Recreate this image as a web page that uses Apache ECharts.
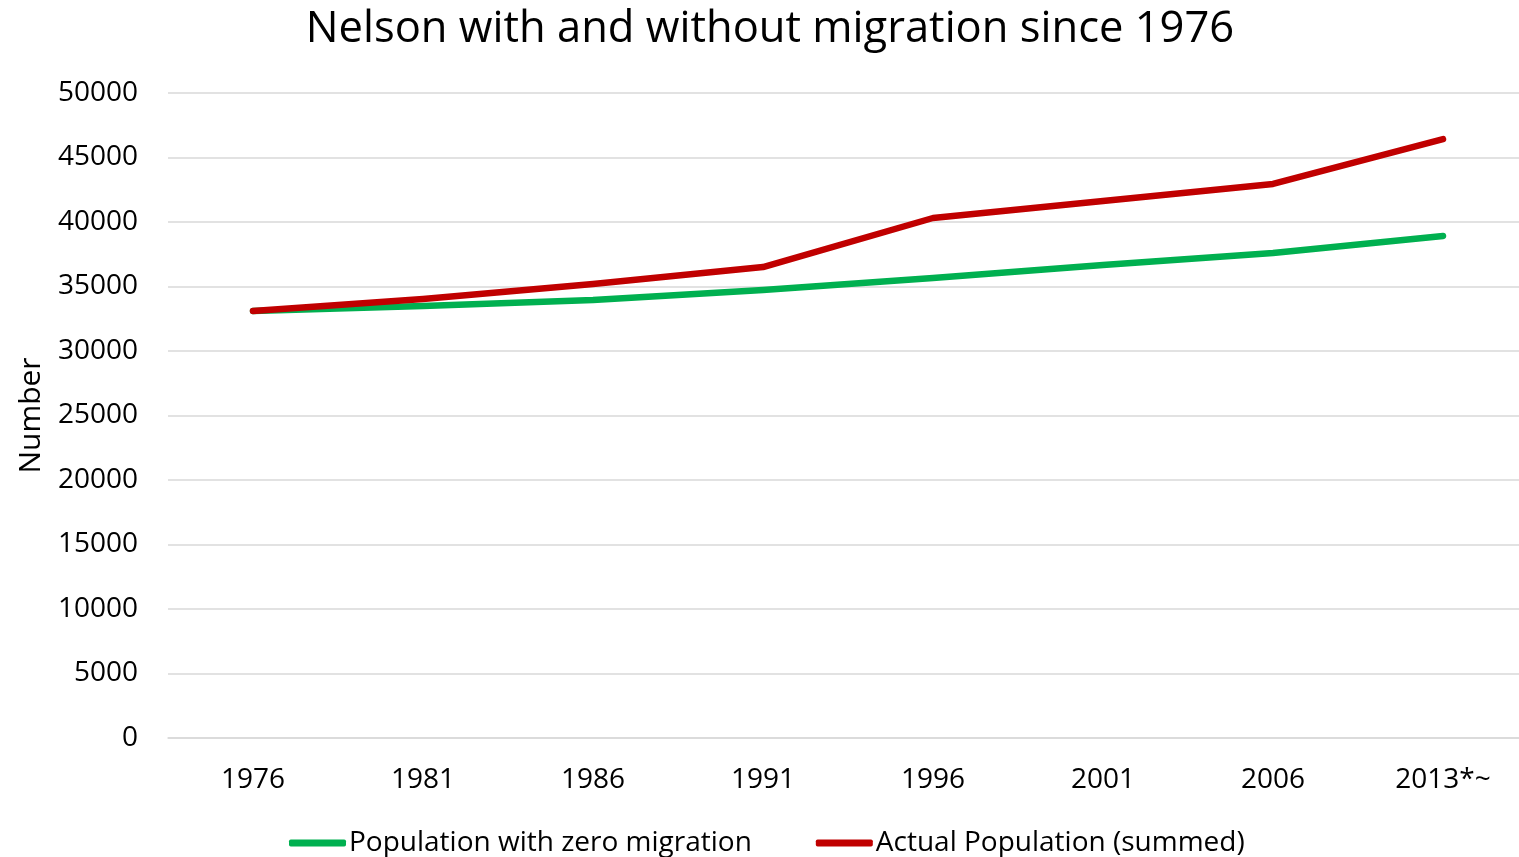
<!DOCTYPE html>
<html>
<head>
<meta charset="utf-8">
<script src="https://cdn.jsdelivr.net/npm/echarts@6/dist/echarts.min.js"></script>
<style>
  html, body { margin: 0; padding: 0; background: #fff; overflow: hidden; }
  /* the plot band runs slightly past the right edge of the window */
  #chart { width: 1528px; height: 857px; }
</style>
</head>
<body>
<div id="chart"></div>
<script>
// Census years (last one is an estimate)
const years = ['1976', '1981', '1986', '1991', '1996', '2001', '2006', '2013*~'];
// Population if nobody had moved in or out since 1976
const zeroMigration = [33100, 33480, 33950, 34730, 35660, 36670, 37600, 38920];
// Actual population, summed across areas
const actualPopulation = [33100, 34030, 35190, 36510, 40310, 41630, 42950, 46430];
const yTicks = { min: 0, max: 50000, step: 5000 };

const FONT = '"Open Sans", "Noto Sans", sans-serif';
const chart = echarts.init(document.getElementById('chart'), null, { renderer: 'canvas' });

chart.setOption({
  animation: false,
  backgroundColor: '#ffffff',
  title: {
    text: 'Nelson with and without migration since 1976',
    left: 765,
    textAlign: 'center',
    top: 3,
    textStyle: { fontFamily: FONT, fontSize: 43.5, fontWeight: 'normal', color: '#000' }
  },
  legend: {
    bottom: 0,
    left: 289,
    padding: 0,
    itemWidth: 57,
    itemHeight: 7,
    itemGap: 64,
    icon: 'roundRect',
    textStyle: { fontFamily: FONT, fontSize: 28, color: '#000', padding: [0, 0, 0, -2] },
    data: ['Population with zero migration', 'Actual Population (summed)']
  },
  grid: { left: 168, right: 0, top: 93, bottom: 119, containLabel: false },
  xAxis: {
    type: 'category',
    data: years,
    boundaryGap: true,
    axisLine: { show: true, lineStyle: { color: '#d9d9d9', width: 1.5 } },
    axisTick: { show: false },
    axisLabel: { fontFamily: FONT, fontSize: 28, color: '#000', margin: 28 }
  },
  yAxis: {
    type: 'value',
    min: yTicks.min,
    max: yTicks.max,
    interval: yTicks.step,
    name: 'Number',
    nameLocation: 'middle',
    nameGap: 122,
    nameRotate: 90,
    nameTextStyle: { fontFamily: FONT, fontSize: 30, color: '#000' },
    axisLine: { show: false },
    axisTick: { show: false },
    axisLabel: {
      fontFamily: FONT, fontSize: 28, color: '#000', margin: 30,
      formatter: (v) => String(v)
    },
    splitLine: { lineStyle: { color: '#d9d9d9', width: 1.5 } }
  },
  series: [
    {
      name: 'Population with zero migration',
      type: 'line',
      data: zeroMigration,
      symbol: 'none',
      color: '#00B050',
      lineStyle: { width: 6.5, cap: 'round', join: 'round' }
    },
    {
      name: 'Actual Population (summed)',
      type: 'line',
      data: actualPopulation,
      symbol: 'none',
      color: '#C00000',
      lineStyle: { width: 6.5, cap: 'round', join: 'round' }
    }
  ]
});
</script>
</body>
</html>
